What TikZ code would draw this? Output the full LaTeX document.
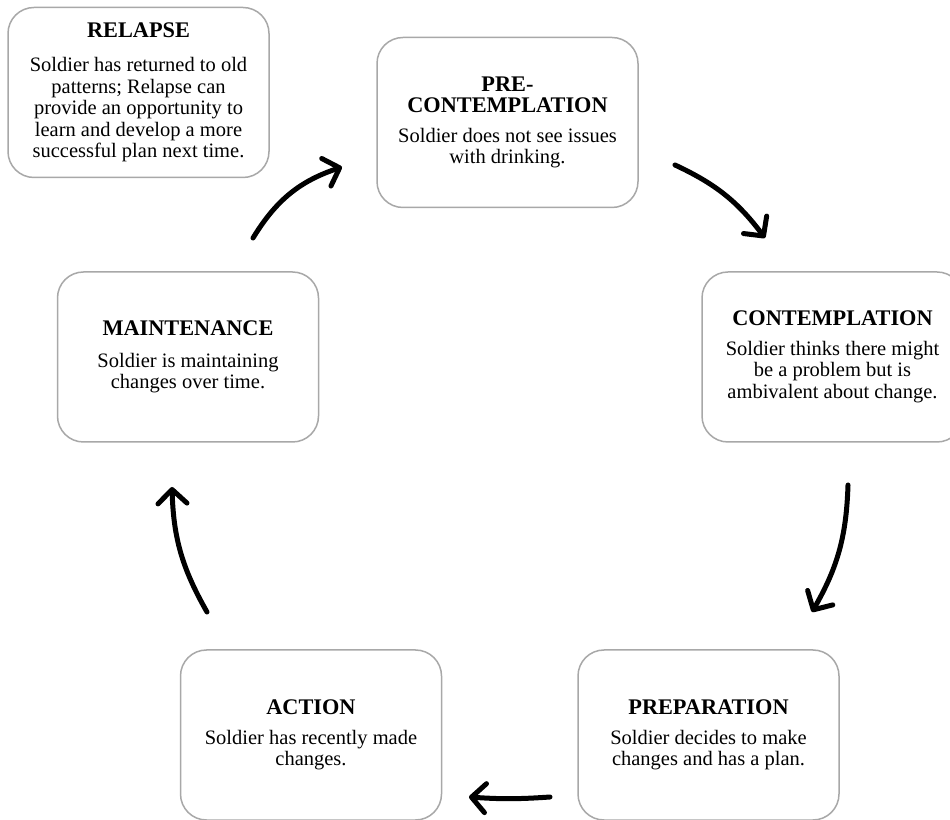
\documentclass[tikz,border=0pt]{standalone}
\usepackage{fontspec}
\setmainfont{Liberation Serif}
\usetikzlibrary{arrows.meta}
\definecolor{boxgray}{RGB}{168,168,168}
\newcommand{\stagetitle}[1]{{\fontsize{22.3}{23}\selectfont\bfseries #1}}
\tikzset{
  stagebox/.style={draw=boxgray, line width=1.5pt, rounded corners=26pt,
    minimum width=261pt, minimum height=170pt, inner sep=0pt, align=center,
    font=\fontsize{20.5}{21.5}\selectfont, fill=white},
  cyclearrow/.style={line width=5pt, line cap=round, black,
    -{Straight Barb[length=14pt, width=29pt, round]}},
}
\begin{document}
\begin{tikzpicture}[x=1pt,y=1pt]
\useasboundingbox (0,0) rectangle (950,819);
\clip (0,0) rectangle (950,819);
\fill[white] (0,0) rectangle (950,819);

\node[stagebox] (relapse) at (138.5,726.5) {\stagetitle{RELAPSE}\\[13pt]
  Soldier has returned to old\\patterns; Relapse can\\provide an opportunity to\\learn and develop a more\\successful plan next time.};
\node[stagebox] (pre) at (507.5,696.5) {\stagetitle{PRE-}\\\stagetitle{CONTEMPLATION}\\[8pt]
  Soldier does not see issues\\with drinking.};
\node[stagebox] (contemp) at (832.5,462) {\stagetitle{CONTEMPLATION}\\[8pt]
  Soldier thinks there might\\be a problem but is\\ambivalent about change.};
\node[stagebox] (maint) at (188,462) {\stagetitle{MAINTENANCE}\\[10pt]
  Soldier is maintaining\\changes over time.};
\node[stagebox] (prep) at (708.5,84) {\stagetitle{PREPARATION}\\[8pt]
  Soldier decides to make\\changes and has a plan.};
\node[stagebox] (action) at (311,84) {\stagetitle{ACTION}\\[8pt]
  Soldier has recently made\\changes.};

\coordinate (m2pS) at (253,581);
\coordinate (m2pE) at (342,652);
\coordinate (p2cS) at (675,654);
\coordinate (p2cE) at (765,581);
\coordinate (c2rS) at (848,334);
\coordinate (c2rE) at (812,207);
\coordinate (r2aS) at (550,22);
\coordinate (r2aE) at (469,22);
\coordinate (a2mS) at (207,207);
\coordinate (a2mE) at (172,332);

\draw[cyclearrow] (m2pS) to[bend left=20] (m2pE);
\draw[cyclearrow] (p2cS) to[bend left=14] (p2cE);
\draw[cyclearrow] (c2rS) to[bend left=14] (c2rE);
\draw[cyclearrow] (r2aS) to[bend left=4] (r2aE);
\draw[cyclearrow] (a2mS) to[bend left=14] (a2mE);
\end{tikzpicture}
\end{document}
